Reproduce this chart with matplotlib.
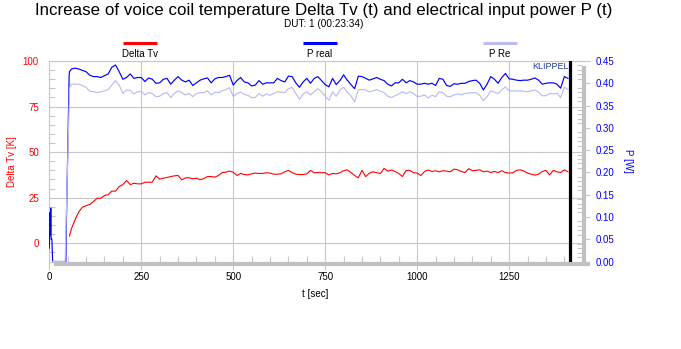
import numpy as np
import matplotlib
matplotlib.use("Agg")
import matplotlib.pyplot as plt
from matplotlib.ticker import MultipleLocator, FormatStrFormatter
from matplotlib.lines import Line2D

plt.rcParams['font.family'] = ['Liberation Sans', 'DejaVu Sans']

# sample times (s) of the logged curves after the ramp-up
t_main = np.concatenate([[55], np.arange(60, 1420, 10)])

# temperature rise of the voice coil (K)
delta_tv = [
    4.0, 7.9, 12.9, 17.2, 19.8, 20.6, 21.3, 22.9, 24.7, 24.7, 26.2, 26.7, 28.6, 28.6, 31.1, 32.2, 34.4,
    32.2, 32.9, 32.6, 32.6, 33.5, 33.5, 33.5, 37.0, 35.2, 35.7, 36.1, 36.6, 37.0, 37.2, 34.8, 35.9, 35.9,
    35.4, 35.7, 34.9, 35.5, 36.6, 36.6, 36.3, 37.2, 38.8, 39.0, 39.6, 39.0, 37.2, 38.3, 37.7, 37.5, 38.1,
    38.5, 38.3, 38.3, 38.7, 38.5, 37.9, 37.9, 38.1, 39.2, 40.0, 38.8, 37.9, 37.7, 37.7, 38.1, 40.0, 38.7,
    38.8, 38.7, 38.7, 37.5, 38.3, 38.1, 38.7, 39.8, 40.3, 38.8, 37.2, 35.9, 40.0, 36.6, 38.5, 39.2, 38.7,
    38.3, 41.1, 39.6, 40.2, 39.4, 38.3, 36.6, 40.0, 40.0, 38.7, 38.5, 37.2, 39.4, 40.2, 39.4, 39.8, 39.2,
    39.8, 39.6, 39.2, 40.7, 40.3, 39.4, 38.8, 40.9, 39.8, 40.0, 40.3, 39.2, 39.6, 38.8, 39.4, 38.8, 39.8,
    38.8, 38.5, 38.7, 40.0, 40.3, 39.6, 38.5, 37.9, 37.4, 37.9, 39.4, 40.0, 37.5, 40.0, 39.2, 38.8, 40.3,
    39.2,
]

# real electrical input power (W)
p_real = [
    0.426, 0.432, 0.434, 0.432, 0.429, 0.426, 0.418, 0.415, 0.415, 0.413, 0.417, 0.421, 0.436, 0.441,
    0.426, 0.409, 0.413, 0.421, 0.411, 0.413, 0.413, 0.404, 0.412, 0.409, 0.400, 0.401, 0.409, 0.411,
    0.398, 0.407, 0.415, 0.407, 0.403, 0.407,
    0.395, 0.401, 0.407, 0.410, 0.412, 0.401, 0.410, 0.413, 0.413, 0.415, 0.418, 0.396, 0.406, 0.413,
    0.403, 0.401, 0.394, 0.396, 0.406, 0.398, 0.401, 0.401, 0.401, 0.411, 0.406, 0.403, 0.416, 0.415,
    0.401, 0.391, 0.403, 0.411, 0.400, 0.411,
    0.415, 0.406, 0.397, 0.392, 0.411, 0.397, 0.406, 0.419, 0.407, 0.397, 0.388, 0.416, 0.415, 0.411,
    0.407, 0.410, 0.413, 0.409, 0.406, 0.398, 0.394, 0.401, 0.401, 0.409, 0.401, 0.406, 0.403, 0.398,
    0.398, 0.400, 0.398, 0.400, 0.395, 0.411,
    0.409, 0.395, 0.393, 0.399, 0.398, 0.400, 0.400, 0.404, 0.406, 0.407, 0.400, 0.385, 0.398, 0.415,
    0.409, 0.400, 0.413, 0.422, 0.410, 0.409, 0.407, 0.406, 0.407, 0.407, 0.409, 0.412, 0.407, 0.398,
    0.400, 0.401, 0.401, 0.398, 0.389, 0.415, 0.411,
]

# power dissipated in Re (W)
p_re = [
    0.389, 0.398, 0.398, 0.398, 0.395, 0.391, 0.382, 0.381, 0.379, 0.381, 0.383, 0.386, 0.396, 0.406,
    0.396, 0.377, 0.385, 0.384, 0.376, 0.381, 0.382, 0.374, 0.379, 0.377, 0.370, 0.371, 0.377, 0.379,
    0.368, 0.377, 0.383, 0.379, 0.374, 0.377,
    0.370, 0.377, 0.379, 0.379, 0.383, 0.374, 0.380, 0.379, 0.383, 0.386, 0.390, 0.370, 0.377, 0.380,
    0.375, 0.373, 0.368, 0.368, 0.377, 0.371, 0.376, 0.373, 0.377, 0.381, 0.380, 0.379, 0.388, 0.391,
    0.377, 0.364, 0.376, 0.381, 0.374, 0.381,
    0.388, 0.381, 0.371, 0.362, 0.381, 0.371, 0.385, 0.391, 0.380, 0.372, 0.358, 0.385, 0.386, 0.385,
    0.381, 0.383, 0.386, 0.382, 0.379, 0.371, 0.368, 0.372, 0.376, 0.381, 0.377, 0.381, 0.377, 0.370,
    0.371, 0.374, 0.367, 0.373, 0.370, 0.381,
    0.379, 0.371, 0.370, 0.374, 0.376, 0.374, 0.377, 0.378, 0.379, 0.379, 0.373, 0.361, 0.370, 0.383,
    0.380, 0.377, 0.385, 0.392, 0.383, 0.383, 0.383, 0.383, 0.382, 0.381, 0.383, 0.385, 0.380, 0.372,
    0.372, 0.377, 0.376, 0.378, 0.368, 0.391, 0.386,
]

# start-up part of the power curves
t_start_real = [0, 2, 3, 4, 5, 7, 9, 45, 46, 49, 52, 54]
p_start_real = [0.03, 0.11, 0.06, 0.12, 0.05, 0.05, 0.0, 0.0, 0.068, 0.20, 0.33, 0.42]
t_start_re = [9, 43]
p_start_re = [0.0, 0.0]

t_end = 1416  # end of measurement (00:23:34)

grid_c = '#c8c8c8'
bar_c = '#c0c0c0'
red = '#ff0000'
blue = '#0000ff'
lilac = '#bcbcf0'

fig = plt.figure(figsize=(6.81, 3.49), dpi=100)
ax = fig.add_axes([0.0724, 0.2507, 0.7822, 0.5745])
ax2 = ax.twinx()

ax.plot(t_main, delta_tv, color=red, lw=0.8, zorder=3)
ax2.plot(np.concatenate([t_start_real, t_main]), np.concatenate([p_start_real, p_real]),
         color=blue, lw=0.85, zorder=3)
ax2.plot(np.concatenate([t_start_re, t_main]), np.concatenate([p_start_re, p_re]),
         color=lilac, lw=0.85, zorder=4)
ax2.axvline(t_end, color='black', lw=2.3, zorder=5)

ax.set_xlim(0, 1448)
ax.set_ylim(-10, 100)
ax2.set_ylim(0, 0.45)

ax.set_xticks(np.arange(0, 1251, 250))
ax.xaxis.set_minor_locator(MultipleLocator(50))
ax.set_yticks(np.arange(0, 101, 25))
ax.yaxis.set_minor_locator(MultipleLocator(5))
ax2.set_yticks(np.arange(0, 0.451, 0.05))
ax2.yaxis.set_minor_locator(MultipleLocator(0.01))
ax2.yaxis.set_major_formatter(FormatStrFormatter('%.2f'))

ax.grid(True, which='major', color=grid_c, lw=0.8)
ax.set_axisbelow(True)

for s in ['right', 'bottom']:
    ax.spines[s].set_visible(False)
for s in ['left', 'top']:
    ax.spines[s].set_color(grid_c)
    ax.spines[s].set_linewidth(0.8)
for s in ax2.spines.values():
    s.set_visible(False)

ax.tick_params(axis='x', which='major', direction='out', length=6, width=0.8, color=grid_c,
               labelsize=7, pad=1.5)
ax.tick_params(axis='x', which='minor', direction='in', length=4.2, width=0.8, color=grid_c)
ax.tick_params(axis='y', which='major', length=0, pad=7.5, labelsize=7, labelcolor=red)
ax.tick_params(axis='y', which='minor', direction='in', length=4, width=0.8, color=grid_c)
ax2.tick_params(axis='y', which='major', direction='out', length=6, width=0.8, color=grid_c,
                labelsize=7, labelcolor=blue, pad=4)
ax2.tick_params(axis='y', which='minor', direction='in', length=3.6, width=0.8, color=grid_c)

# shadow bars along bottom and right edge
ax.plot([0.009, 1.015], [-0.0125, -0.0125], transform=ax.transAxes, color=bar_c, lw=3,
        solid_capstyle='butt', clip_on=False, zorder=6)
ax.plot([1.0037, 1.0037], [-0.0224, 0.975], transform=ax.transAxes, color=bar_c, lw=3,
        solid_capstyle='butt', clip_on=False, zorder=6)

ax.set_xlabel('t [sec]', fontsize=7, labelpad=5)
ax.set_ylabel('Delta Tv [K]', fontsize=7, color=red, labelpad=4)
ax2.set_ylabel('P [W]', fontsize=7, color=blue, rotation=270, labelpad=13)

ax.text(0.9756, 0.975, 'KLIPPEL', transform=ax.transAxes, ha='right', va='center',
        fontsize=6.5, color='#1e3c96', zorder=7)

fig.text(324 / 681, 1 - 10 / 349, 'Increase of voice coil temperature Delta Tv (t) and electrical input power P (t)',
         ha='center', va='center', fontsize=12.2)
fig.text(324 / 681, 1 - 24 / 349, 'DUT: 1 (00:23:34)', ha='center', va='center', fontsize=7.2)

# legend: sample line above each name
legend_names = ['Delta Tv', 'P real', 'P Re']
legend_colors = [red, blue, lilac]
legend_x = [140, 320, 500]
for name, col, xc in zip(legend_names, legend_colors, legend_x):
    fig.add_artist(Line2D([(xc - 17) / 681, (xc + 17) / 681], [1 - 42.5 / 349, 1 - 42.5 / 349],
                          color=col, lw=2.2, solid_capstyle='butt'))
    fig.text(xc / 681, 1 - 54 / 349, name, ha='center', va='center', fontsize=7)

fig.savefig('out.png', dpi=100)
